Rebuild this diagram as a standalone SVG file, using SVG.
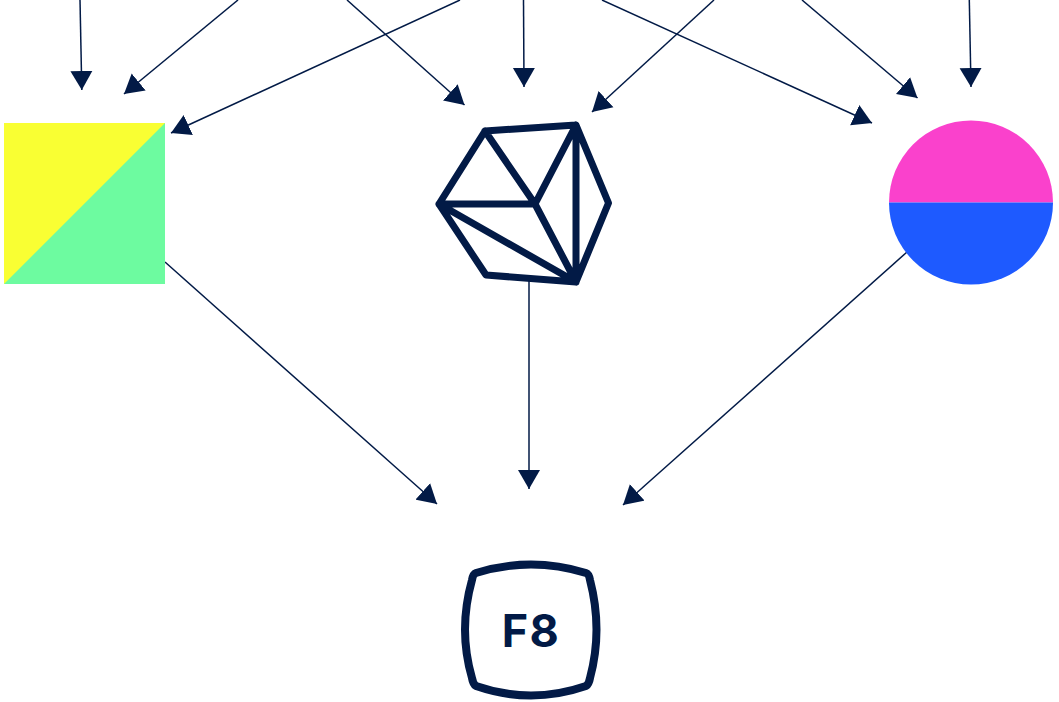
<svg xmlns="http://www.w3.org/2000/svg" width="1059" height="702" viewBox="0 0 1059 702">
<style>
.c{fill:none;stroke:#021a46;stroke-width:1.5;marker-end:url(#h)}
.o{fill:none;stroke:#021a46;stroke-width:7;stroke-linejoin:round;stroke-linecap:round}
.k{stroke-width:8}
.t{font-family:"Inter","Liberation Sans",sans-serif;font-weight:700;font-size:45px;letter-spacing:1.500px;fill:#021a46}
</style>
<defs>
<marker id="h" markerUnits="userSpaceOnUse" markerWidth="20" markerHeight="23" refX="19" refY="11.5" orient="auto">
<path d="M0 0.500L19 11.500L0 22.500Z" fill="#021a46"/>
</marker>
</defs>
<rect width="1059" height="702" fill="#fff"/>
<g id="connectors">
<path class="c" d="M80 0L81.800 90"/>
<path class="c" d="M238 0L124 94"/>
<path class="c" d="M460 0L171 133"/>
<path class="c" d="M347 0L464.500 105"/>
<path class="c" d="M523.500 0L524 87"/>
<path class="c" d="M602 0L872 123"/>
<path class="c" d="M714 0L592 112"/>
<path class="c" d="M802 0L917.500 98"/>
<path class="c" d="M969.300 0L971 87"/>
<path class="c" d="M165 262L437 504"/>
<path class="c" d="M529 280V489"/>
<path class="c" d="M907 252L623 505"/>
</g>
<g id="square">
<rect x="4" y="123" width="161" height="161" fill="#6dfba0"/>
<path d="M4 123H165L4 284Z" fill="#f9ff33"/>
</g>
<g id="hexagon">
<path class="o" d="M485 131L576 125L608.500 203L576 282L486 275L439 204ZM439 204H535L485 131M535 204L576 125V282L535 204M439 204L576 282"/>
</g>
<g id="circle">
<path d="M889 202.500A82 82 0 0 1 1053 202.500Z" fill="#fa41cc"/>
<path d="M889 202.500A82 82 0 0 0 1053 202.500Z" fill="#1e5aff"/>
</g>
<g id="f8">
<path class="o k" d="M476 573Q531 556 586 573Q589 574 590 580Q603 630 590 678Q589 684 586 686Q531 705 476 686Q473 684 472 678Q458 630 472 580Q473 574 476 573Z"/>
<text class="t" x="531" y="647" text-anchor="middle">F8</text>
</g>
</svg>
